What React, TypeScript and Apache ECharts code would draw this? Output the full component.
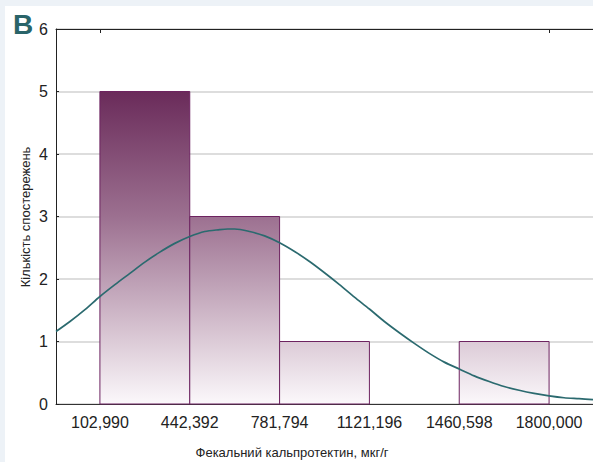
import React, { useEffect, useRef } from "react";
import * as echarts from "echarts";

// Histogram bins (edges) and number of observations per bin
const binEdges = [102.99, 442.392, 781.794, 1121.196, 1460.598, 1800.0];
const binCounts = [5, 3, 1, 0, 1];

// Tick labels on the x axis
const xTickValues = [102.99, 442.392, 781.794, 1121.196, 1460.598, 1800.0];

// Fitted normal curve, sampled along the axis
const curveX = [
  -62.94, -10.14, 46.42, 102.99, 159.56, 216.12, 272.69, 329.26, 385.82, 442.39,
  498.96, 555.53, 585.7, 612.09, 668.66, 725.23, 781.79, 838.36, 894.93, 951.5,
  1008.06, 1064.63, 1121.2, 1177.76, 1234.33, 1290.9, 1347.46, 1404.03, 1460.6,
  1517.17, 1573.73, 1630.3, 1686.87, 1743.43, 1800.0, 1856.57, 1913.13, 1965.93,
];
const curveY = [
  1.16, 1.32, 1.51, 1.72, 1.91, 2.09, 2.27, 2.43, 2.57, 2.68,
  2.76, 2.79, 2.8, 2.8, 2.76, 2.69, 2.58, 2.44, 2.28, 2.1,
  1.91, 1.71, 1.52, 1.32, 1.14, 0.97, 0.81, 0.67, 0.56,
  0.45, 0.36, 0.28, 0.22, 0.17, 0.13, 0.1, 0.085, 0.07,
];

const X_MIN = -62.94;
const X_MAX = 1965.93;

const FONT = "'Liberation Sans', Arial, sans-serif";

export default function App() {
  const ref = useRef<HTMLDivElement>(null);

  useEffect(() => {
    if (!ref.current) return;
    const chart = echarts.init(ref.current, null, { renderer: "svg" });

    const histData = binCounts.map((c, i) => [binEdges[i], binEdges[i + 1], c]);
    const curveData = curveX.map((x, i) => [x, curveY[i]]);

    const fmt = (v: number) => v.toFixed(3).replace(".", ",");

    chart.setOption({
      animation: false,
      backgroundColor: "transparent",
      textStyle: { fontFamily: FONT },
      grid: { left: 56, top: 29, width: 538, height: 375, containLabel: false },
      xAxis: [
        {
          type: "value",
          min: X_MIN,
          max: X_MAX,
          position: "bottom",
          axisLine: { show: true, onZero: false, lineStyle: { color: "#333", width: 1 } },
          axisTick: { show: false },
          splitLine: { show: false },
          axisLabel: {
            customValues: xTickValues,
            formatter: (v: number) => fmt(v),
            color: "#222",
            fontSize: 16,
            fontFamily: FONT,
            margin: 10,
          },
        },
        {
          type: "value",
          min: X_MIN,
          max: X_MAX,
          position: "top",
          axisLine: { show: true, onZero: false, lineStyle: { color: "#222", width: 1 } },
          axisTick: {
            show: true,
            inside: true,
            length: 4,
            customValues: [binEdges[0], binEdges[binEdges.length - 1]],
            lineStyle: { color: "#222" },
          },
          axisLabel: { show: false },
          splitLine: { show: false },
        },
      ],
      yAxis: {
        type: "value",
        min: 0,
        max: 6,
        interval: 1,
        axisLine: { show: true, onZero: false, lineStyle: { color: "#222", width: 1 } },
        axisTick: { show: true, inside: true, length: 3, lineStyle: { color: "#222" } },
        splitLine: { show: true, lineStyle: { color: "#d2d2d2", width: 1.5 } },
        axisLabel: { color: "#222", fontSize: 16, fontFamily: FONT, margin: 8 },
      },
      graphic: [
        {
          type: "text",
          left: 13,
          top: 10,
          style: { text: "B", fontSize: 28, fontWeight: "bold", fill: "#2a6469", fontFamily: FONT },
        },
        {
          type: "text",
          x: 292,
          y: 452,
          style: {
            text: "Фекальний кальпротектин, мкг/г",
            fontSize: 13,
            fill: "#222",
            fontFamily: FONT,
            align: "center",
            verticalAlign: "middle",
          },
        },
        {
          type: "text",
          x: 25,
          y: 217,
          rotation: Math.PI / 2,
          style: {
            text: "Кількість спостережень",
            fontSize: 13,
            fill: "#222",
            fontFamily: FONT,
            align: "center",
            verticalAlign: "middle",
          },
        },
      ],
      series: [
        {
          type: "custom",
          xAxisIndex: 0,
          data: histData,
          z: 2,
          renderItem: (params: any, api: any) => {
            const x0 = api.value(0);
            const x1 = api.value(1);
            const c = api.value(2);
            if (!c) return null;
            const p0 = api.coord([x0, c]);
            const p1 = api.coord([x1, 0]);
            const yTop = api.coord([0, 5])[1];
            const yBottom = api.coord([0, 0])[1];
            const fill = new echarts.graphic.LinearGradient(
              0,
              yTop,
              0,
              yBottom,
              [
                { offset: 0, color: "#6a2b5a" },
                { offset: 0.4, color: "#9c7090" },
                { offset: 0.8, color: "#dccbd7" },
                { offset: 1, color: "#fbf8fb" },
              ],
              true
            );
            return {
              type: "rect",
              shape: { x: p0[0], y: p0[1], width: p1[0] - p0[0], height: p1[1] - p0[1] },
              style: { fill, stroke: "#6d2360", lineWidth: 1 },
            };
          },
        },
        {
          type: "line",
          xAxisIndex: 0,
          data: curveData,
          smooth: 0.3,
          showSymbol: false,
          symbol: "none",
          clip: true,
          z: 3,
          lineStyle: { color: "#2b6a6f", width: 1.7 },
        },
      ],
    });

    return () => chart.dispose();
  }, []);

  return (
    <div style={{ position: "absolute", left: 0, top: 0, width: 593, height: 462, background: "#edf2f7", overflow: "hidden" }}>
      <div style={{ position: "absolute", left: 5, top: 6, right: 0, bottom: 0, background: "#ffffff" }} />
      <div ref={ref} style={{ position: "absolute", left: 0, top: 0, width: 593, height: 462 }} />
    </div>
  );
}
